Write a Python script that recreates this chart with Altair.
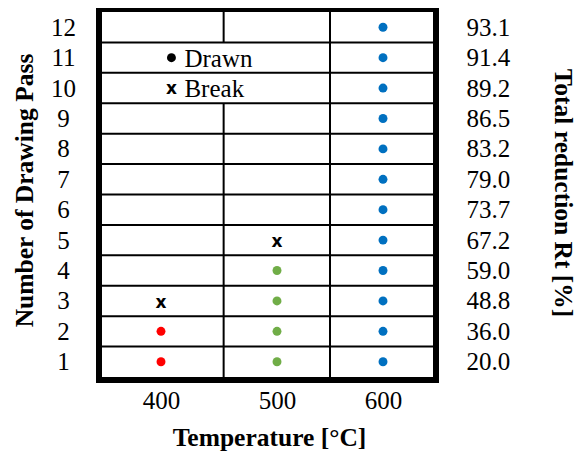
import altair as alt
import pandas as pd

# ---- data ----
passes = list(range(1, 13))
reduction_labels = ["20.0", "36.0", "48.8", "59.0", "67.2", "73.7",
                    "79.0", "83.2", "86.5", "89.2", "91.4", "93.1"]
temperatures = [400, 500, 600]
drawn_400 = [1, 2]
drawn_500 = [1, 2, 3, 4]
drawn_600 = list(range(1, 13))
break_temps = [400, 500]
break_passes = [3, 5]
colors = {400: "#FF0000", 500: "#70AD47", 600: "#0070C0"}

# table structure (cell borders in data units)
row_borders = [i + 0.5 for i in range(1, 12)]
col_borders = [454, 550]
# legend cell spans passes 10-11 in the first column (no vertical line there)
legend_rows = [11, 10]
legend_labels = ["Drawn", "Break"]
legend_x = 409

W, H = 337, 371
# table columns are not equally wide: piecewise linear x scale
X_DOM = [346.6, 400, 500, 600, 650]
X_RANGE = [0, 62, 178, 284, W]
Y_DOM = [0.4, 12.6]
FONT = "Liberation Serif"
LFS = 25
TFS = 25.5

drawn_rows = []
for t, ps in zip(temperatures, [drawn_400, drawn_500, drawn_600]):
    for p in ps:
        drawn_rows.append({"temp": t, "pass": p, "color": colors[t]})
drawn_df = pd.DataFrame(drawn_rows)
break_df = pd.DataFrame({"temp": break_temps, "pass": break_passes, "mark": ["x", "x"]})
hlines = pd.DataFrame({"y": row_borders})
vlines = pd.DataFrame({
    "x": [col_borders[0], col_borders[0], col_borders[1]],
    "y": [Y_DOM[0], 11.5, Y_DOM[0]],
    "y2": [9.5, Y_DOM[1], Y_DOM[1]],
})
leg_df = pd.DataFrame({"x": [legend_x, legend_x], "pass": legend_rows,
                       "label": legend_labels, "kind": ["dot", "x"]})

xs = alt.Scale(domain=X_DOM, range=X_RANGE, nice=False, zero=False)
ys = alt.Scale(domain=Y_DOM, nice=False, zero=False)

x_axis = alt.Axis(values=temperatures, ticks=False, domain=False, grid=False,
                  labelFont=FONT, labelFontSize=LFS, labelColor="black", labelPadding=8,
                  labelOverlap=False,
                  title="Temperature [°C]", titleFont=FONT, titleFontSize=TFS,
                  titleFontWeight="bold", titleColor="black",
                  titleX=170, titleY=65, titleBaseline="alphabetic", titleAlign="center")
y_axis = alt.Axis(values=passes, ticks=False, domain=False, grid=False,
                  labelFont=FONT, labelFontSize=LFS, labelColor="black",
                  labelAlign="center", labelBaseline="middle", labelPadding=36,
                  labelOverlap=False, labelFlush=False,
                  title="Number of Drawing Pass", titleFont=FONT, titleFontSize=TFS,
                  titleFontWeight="bold", titleColor="black", titleAngle=270,
                  titleX=-67, titleY=181, titleAlign="center", titleBaseline="alphabetic")

label_expr = "[" + ",".join("'" + s + "'" for s in reduction_labels) + "][datum.value - 1]"
y_axis_r = alt.Axis(values=passes, orient="right", ticks=False, tickSize=0, domain=False,
                    grid=False, labelFont=FONT, labelFontSize=LFS, labelColor="black",
                    labelAlign="left", labelBaseline="middle", labelPadding=30,
                    labelOverlap=False, labelFlush=False,
                    labelExpr=label_expr,
                    title="Total reduction Rt [%]", titleFont=FONT, titleFontSize=TFS,
                    titleFontWeight="bold", titleColor="black", titleAngle=90,
                    titleX=118, titleY=183.5, titleAlign="center", titleBaseline="alphabetic")

h = alt.Chart(hlines).mark_rule(color="black", strokeWidth=2).encode(
    y=alt.Y("y:Q", scale=ys, axis=y_axis))
v = alt.Chart(vlines).mark_rule(color="black", strokeWidth=2).encode(
    x=alt.X("x:Q", scale=xs, axis=x_axis), y=alt.Y("y:Q", scale=ys, axis=y_axis), y2="y2:Q")
pts = alt.Chart(drawn_df).mark_point(filled=True, shape="circle", size=80, opacity=1).encode(
    x=alt.X("temp:Q", scale=xs, axis=x_axis), y=alt.Y("pass:Q", scale=ys, axis=y_axis),
    color=alt.Color("color:N", scale=None))
brk = alt.Chart(break_df).mark_text(font="DejaVu Sans", fontWeight="bold", fontSize=17,
                                    color="black", baseline="middle", dy=2).encode(
    x=alt.X("temp:Q", scale=xs, axis=x_axis), y=alt.Y("pass:Q", scale=ys, axis=y_axis), text="mark:N")
leg_dot = alt.Chart(leg_df).transform_filter("datum.kind == 'dot'").mark_point(
    filled=True, shape="circle", size=80, opacity=1, color="black").encode(
    x=alt.X("x:Q", scale=xs, axis=x_axis), y=alt.Y("pass:Q", scale=ys, axis=y_axis))
leg_x = alt.Chart(leg_df).transform_filter("datum.kind == 'x'").mark_text(
    font="DejaVu Sans", fontWeight="bold", fontSize=17, color="black", baseline="middle", dy=1).encode(
    x=alt.X("x:Q", scale=xs, axis=x_axis), y=alt.Y("pass:Q", scale=ys, axis=y_axis), text=alt.value("x"))
leg_txt = alt.Chart(leg_df).mark_text(font=FONT, fontSize=LFS, color="black", align="left",
                                      baseline="middle", dx=13, dy=1).encode(
    x=alt.X("x:Q", scale=xs, axis=x_axis), y=alt.Y("pass:Q", scale=ys, axis=y_axis), text="label:N")
border = alt.Chart(hlines).mark_rect(fillOpacity=0, stroke="black", strokeWidth=6).encode(
    x=alt.value(0), x2=alt.value(W), y=alt.value(0), y2=alt.value(H))
right = alt.Chart(hlines).mark_rule(opacity=0).encode(
    y=alt.Y("y:Q", scale=ys, axis=y_axis_r))

main = alt.layer(h, v, pts, brk, leg_dot, leg_x, leg_txt, border)
chart = alt.layer(main, right).resolve_scale(y="independent").properties(
    width=W, height=H,
    autosize=alt.AutoSizeParams(type="none"),
    padding={"left": 91, "top": 1, "right": 141, "bottom": 90},
).configure_view(stroke=None).configure_axis(labelOverlap=False).configure(background="white")

chart.save("out.html", embed_options={"renderer": "svg", "actions": False})
